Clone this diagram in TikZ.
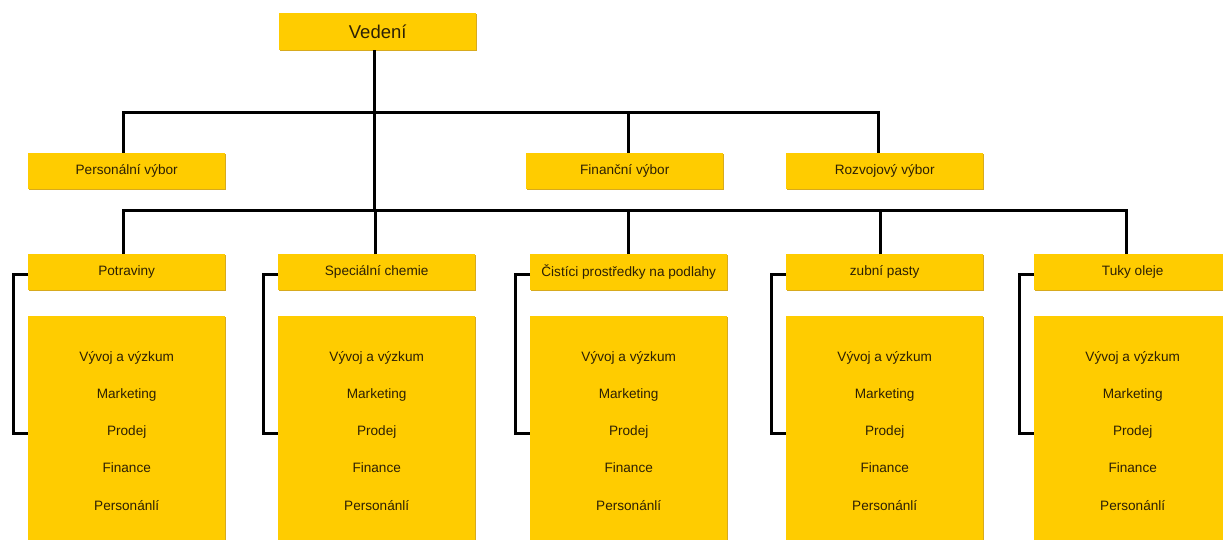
\documentclass[tikz,border=0pt]{standalone}
\usepackage{fontspec}
\setmainfont{Liberation Sans}
\begin{document}
\begin{tikzpicture}[x=1pt,y=-1pt,
  boxfill/.style={fill=ybox, draw=none},
  unit/.style={boxfill, anchor=north west, minimum width=197pt, minimum height=36pt,
    inner sep=0pt, text=tdark, font=\fontsize{13.6}{15}\selectfont},
  body/.style={boxfill, anchor=north west, minimum width=197pt, minimum height=229pt,
    inner sep=0pt, text=tdark, align=center, font=\fontsize{13.6}{37.2}\selectfont},
  link/.style={line width=3pt, black}]
\definecolor{ybox}{RGB}{255,204,0}
\definecolor{yshadow}{RGB}{215,170,30}
\definecolor{tdark}{RGB}{45,32,5}
\useasboundingbox (0,0) rectangle (1223,540);
\clip (0,0) rectangle (1223,540);

% thin darker edge under each box
\foreach \x/\y/\h in {279/13/37, 28/153/36, 526/153/36, 786/153/36,
  28/254/36, 278/254/36, 530/254/36, 786/254/36, 1034/254/36,
  28/316/240, 278/316/240, 530/316/240, 786/316/240, 1034/316/240}
  \fill[yshadow] (\x+1,\y+1) rectangle ++(197,\h);

% top
\node[unit, minimum height=37pt, font=\fontsize{18.5}{20}\selectfont] (top) at (279,13) {Vedení};

% committees
\node[unit] (c1) at (28,153) {Personální výbor};
\node[unit] (c2) at (526,153) {Finanční výbor};
\node[unit] (c3) at (786,153) {Rozvojový výbor};

% divisions
\node[unit] (h1) at (28,254) {Potraviny};
\node[unit] (h2) at (278,254) {Speciální chemie};
\node[unit] (h3) at (530,254) {Čistíci prostředky na podlahy};
\node[unit] (h4) at (786,254) {zubní pasty};
\node[unit] (h5) at (1034,254) {Tuky oleje};

\foreach \i/\x in {1/28, 2/278, 3/530, 4/786, 5/1034}
  \node[body] (b\i) at (\x,316) {Vývoj a výzkum\\Marketing\\Prodej\\Finance\\Personánlí};

% bus lines
\coordinate (busA) at (0,113);
\coordinate (busB) at (0,211);

% trunk
\draw[link] ([xshift=-3pt]top.south) -- ([xshift=-3pt]top.south |- busB);

% committee connectors
\draw[link] ([xshift=-3.5pt]c1.north) |- ([xshift=-6pt]c3.north |- busA) -- ([xshift=-6pt]c3.north);
\draw[link] ([xshift=3.5pt]c2.north) -- ([xshift=3.5pt]c2.north |- busA);

% division connectors
\draw[link] ([xshift=-3.5pt]h1.north) |- ([xshift=-6.5pt]h5.north |- busB) -- ([xshift=-6.5pt]h5.north);
\foreach \i/\d in {2/-1.5, 3/-0.5, 4/-4.5}
  \draw[link] ([xshift=\d pt]h\i.north) -- ([xshift=\d pt]h\i.north |- busB);

% side brackets linking each division to its departments
\foreach \i in {1,...,5}
  \draw[link] ([yshift=-2pt]h\i.west) -- ++(-15,0) |- ([yshift=-2.5pt]b\i.west);
\end{tikzpicture}
\end{document}
